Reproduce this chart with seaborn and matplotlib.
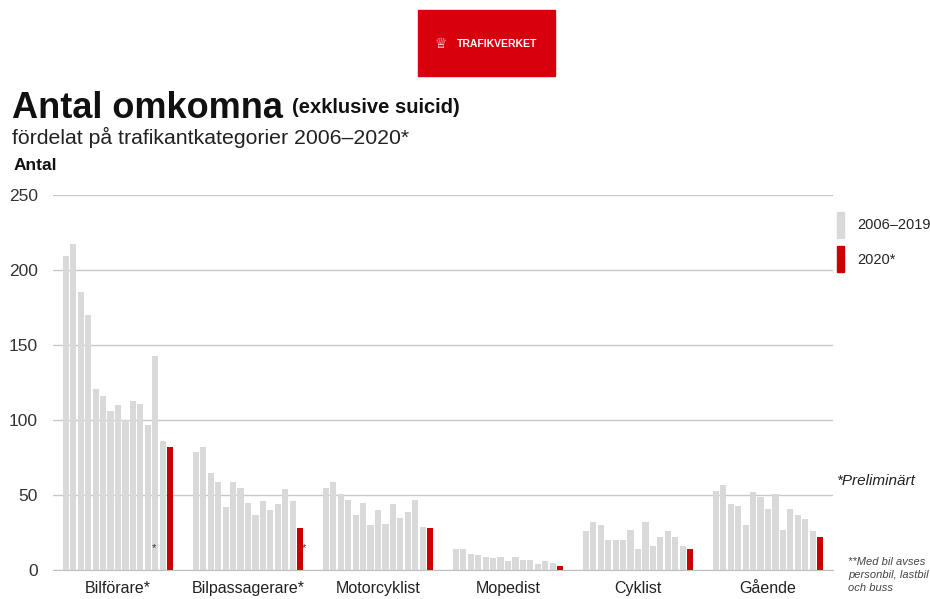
import pandas as pd
import seaborn as sns
import matplotlib.pyplot as plt
from matplotlib.patches import Patch, Rectangle

years = [str(y) for y in range(2006, 2021)]
kategorier = ["Bilförare*", "Bilpassagerare*", "Motorcyklist", "Mopedist", "Cyklist", "Gående"]

bilforare = [209, 217, 185, 170, 121, 116, 106, 110, 100, 113, 111, 97, 143, 86, 82]
bilpassagerare = [79, 82, 65, 59, 42, 59, 55, 45, 37, 46, 40, 44, 54, 46, 28]
motorcyklist = [55, 59, 51, 47, 37, 45, 30, 40, 31, 44, 35, 39, 47, 29, 28]
mopedist = [14, 14, 11, 10, 9, 8, 9, 6, 9, 7, 7, 4, 6, 5, 3]
cyklist = [26, 32, 30, 20, 20, 20, 27, 14, 32, 16, 22, 26, 22, 16, 14]
gaende = [53, 57, 44, 43, 30, 52, 49, 41, 51, 27, 41, 37, 34, 26, 22]

values = [bilforare, bilpassagerare, motorcyklist, mopedist, cyklist, gaende]
rows = []
for kat, vals in zip(kategorier, values):
    for yr, v in zip(years, vals):
        rows.append({"kategori": kat, "år": yr, "antal": v})
df = pd.DataFrame(rows)

grey = "#d9d9d9"
red = "#cc0000"
palette = [grey] * 14 + [red]

sns.set_style("white")
plt.rcParams['font.family'] = ['Liberation Sans', 'DejaVu Sans']

fig = plt.figure(figsize=(9.3, 5.99), dpi=100)
ax = fig.add_axes([53 / 930, 1 - 570 / 599, 780 / 930, 375 / 599])

sns.barplot(data=df, x="kategori", y="antal", hue="år", palette=palette,
            width=0.86, gap=0.18, linewidth=0, legend=False, ax=ax, saturation=1)

ax.set_ylim(0, 250)
ax.set_xlim(-0.5, 5.5)
ax.set_yticks(range(0, 251, 50))
ax.yaxis.grid(True, color="#c8c8c8", linewidth=1)
ax.set_axisbelow(True)
for s in ["top", "right", "left"]:
    ax.spines[s].set_visible(False)
ax.spines["bottom"].set_color("#bfbfbf")
ax.set_xlabel("")
ax.set_ylabel("")
ax.tick_params(axis="y", length=0, pad=11, labelsize=12.5, labelcolor="#333333")
ax.tick_params(axis="x", length=0, pad=8, labelsize=11.5, labelcolor="#222222")
ax.set_xticks([i - 0.5 for i in range(7)], minor=True)
ax.tick_params(axis="x", which="minor", length=4, color="#bfbfbf", direction="out")

# small footnote marks
ax.text(0.127, 0.05, "*", transform=ax.transAxes, fontsize=8, color="#333333")
ax.text(0.319, 0.05, "*", transform=ax.transAxes, fontsize=8, color="#333333")

# logo
fig.patches.append(Rectangle((418 / 930, 1 - 76 / 599), 137 / 930, 66 / 599,
                             transform=fig.transFigure, color="#d9000d"))
fig.text(441 / 930, 1 - 44 / 599, "♕", color="white", fontsize=10,
         ha="center", va="center", family=["DejaVu Sans"])
fig.text(497 / 930, 1 - 44 / 599, "TRAFIKVERKET", color="white", fontsize=7.5,
         fontweight="bold", ha="center", va="center")

# titles
fig.text(12 / 930, 1 - 118 / 599, "Antal omkomna", fontsize=26, fontweight="bold",
         color="#111111", va="baseline")
fig.text(292 / 930, 1 - 113 / 599, "(exklusive suicid)", fontsize=14.5,
         fontweight="bold", color="#111111", va="baseline")
fig.text(12 / 930, 1 - 144 / 599, "fördelat på trafikantkategorier 2006–2020*",
         fontsize=15.3, color="#222222", va="baseline")
fig.text(14 / 930, 1 - 170 / 599, "Antal", fontsize=12.5, fontweight="bold",
         color="#111111", va="baseline")

# legend
handles = [Patch(color=grey, label="2006–2019"), Patch(color=red, label="2020*")]
fig.legend(handles=handles, loc="upper left", bbox_to_anchor=(831 / 930, 1 - 206 / 599),
           frameon=False, handlelength=0.5, handleheight=2.35, handletextpad=0.9,
           labelspacing=0.6, fontsize=10.5, borderaxespad=0)

fig.text(836 / 930, 1 - 485 / 599, "*Preliminärt", fontsize=11, style="italic",
         color="#222222")
fig.text(848 / 930, 1 - 591 / 599, "**Med bil avses\npersonbil, lastbil\noch buss",
         fontsize=8, style="italic", color="#444444", linespacing=1.35)

plt.savefig("out.png", dpi=100)
